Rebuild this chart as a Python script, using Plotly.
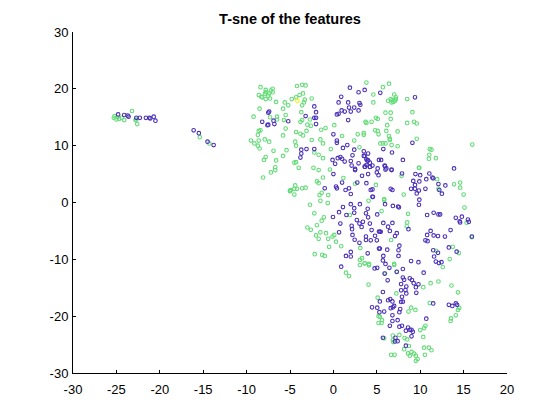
import plotly.graph_objects as go

title = "T-sne of the features"
x_ticks = [-30, -25, -20, -15, -10, -5, 0, 5, 10, 15, 20]
y_ticks = [-30, -20, -10, 0, 10, 20, 30]

green_x = [-25.3,-25.2,-25.0,-24.7,-24.9,-24.4,-24.1,-23.2,-22.8,-22.7,-22.6,-15.4,-14.3,
 -8.4,-7.8,-7.8,-7,-7.2,-7,-7.4,-8.6,-8.3,-8.2,-7.8,-7.3,-7.5,-7.9,-6.6,-5.6,-5.2,-8.5,-5.8,-9.2,-6.5,-6.5,-7.3,-5.5,-5.7,-5.5,-8.6,-8.4,-8.7,-5.8,-7.9,-9.5,-9.1,-8.6,-7.4,-8.7,-8.5,-6.9,-5.4,-5.8,-7.8,-8,-6.6,-6.7,-6.7,-7.2,-8.1,-5,
 -4.2,-3.6,-3.2,-4.8,-4.3,-3.9,-3.5,-3.3,-2.5,-3.4,-3.6,-3.7,-3.6,-3.8,-2.7,-3,-2.6,-3.1,-4.3,-3.8,-3.5,-1.4,-0.9,-2.5,-1.5,-1.2,-4.4,-4.3,-4.5,-4.3,-4,-2.2,-1.7,-1.2,-0.3,-2.3,-1.7,-0.4,0.1,1,2.8,2.4,3,3.5,3.7,3.8,3.8,
 6.4,5.7,4.6,4.6,7,7.2,6.3,6.6,6.7,6.9,7.1,7.2,6.8,8.5,6,6.6,9.1,4.9,5.1,6.6,4.4,6.2,8.5,9.3,9.6,3.5,4.8,5.1,5.2,6.1,7.4,6.4,6.5,6.5,5.4,5.7,6,6.7,7.4,9.6,11.1,11.3,11.05,11,11.8,16,9.9,
 -1.2,-1.9,-1.7,-4.4,-4.9,-5,-4.5,-4.2,-3.6,-3.2,-4.5,-1.35,-1.6,-0.6,1.15,2.5,4.9,-1.5,-0.65,-2.7,-2.2,1.9,-1.1,-1.35,-1.9,4.05,-3,-2.6,-2,-1.5,-0.85,-1.7,-0.6,-0.1,0.1,0.3,-0.5,0.9,3.1,-2.15,-1.3,-1,3.3,3.05,3.6,4.1,
 9.85,7.85,11.95,13.9,14.6,14.6,12.1,8.1,15,5.85,5.85,15.1,5.55,8.6,8.5,8.45,15.35,6.65,13.75,11.85,14.45,15.95,13.4,7,
 3.05,3.6,4.1,7,12.6,1.45,1.8,5.95,7.3,4.05,11.2,12.1,13.6,10.35,14.35,7.25,5.1,11.1,8.95,9.45,8.65,14.5,14.35,14.1,13.55,13.5,5.2,5.35,5.6,5.2,5.55,10.6,10.45,10,6.85,7.6,8.2,8.5,10.35,5.85,6.85,6.9,8.7,8.15,10.45,11,11.3,9,8.6,8.8,9.3,9.5,9.7,9.5,6.65,7.05,10.55]
green_y = [14.9,15.2,14.6,14.7,15,14.9,14.5,16.1,14.5,14.6,13.8,11.5,10.4,
 20.3,19.8,19.4,20,19.7,19.4,19.2,18.9,18.6,18.5,18.2,18.3,18.8,19.1,17.7,17.6,17.1,16.5,16.5,15.1,15.1,14.6,15,15.4,14.5,13,12.6,12.7,11.9,11.8,11.1,10.9,10.4,10.9,10.7,10,9.5,9.1,9.2,8.2,8,7.5,7.4,6.2,5.7,5.3,4.4,2.1,
 20.5,20.7,20.6,18.2,18.5,18.9,19.2,18.1,18.3,17.6,17.1,15.9,14.5,14.2,14.6,13.7,13.5,12.6,12.4,12.1,11.8,12.8,13.1,11,11.1,10.4,10.7,10,7,7.1,6.1,8.8,8.4,7.8,9.4,6.1,5.7,5.8,13.6,11.7,12,10.9,9.7,12.2,14.2,14,21.1,
 20.9,20.3,19,17.6,19,18.5,17.9,18.2,17.6,17.7,17.9,18.2,18,18.2,15.8,15.8,15.9,14.9,14.7,14.7,14.2,13.6,14,14.2,13.9,11.9,12.7,12.6,12,12.6,12.5,11.7,11.2,11,10.4,10.4,10.4,10.1,9.9,11.2,9.4,9.3,8.4,7.7,7.8,10.2,6.1,
 4.4,3.7,3.4,3,2.2,2,2.4,2.4,2.5,2.6,1.4,1.7,1.3,1.3,4.3,3.3,3.1,0.3,-0.1,-0.4,-1.9,-2.2,-2.6,-3.2,-4,0.3,-4.4,-4.8,-5.8,-5.25,-5.4,-6.4,-6.4,-6,-5.7,-6.9,-7.8,-7.7,-8,-9.1,-9.2,-9.4,-9.8,-10.1,-10.7,-10.8,
 6.1,4.7,4.1,3.2,3.5,2.6,2.4,1.4,1.4,0.6,0.4,-0.9,-1.5,-2,-3.5,-4.2,-3.55,-6.6,-7.8,-8.5,-8.9,-6.1,-9.95,-10.8,
 -11,-10.7,-11.05,-11,-11.35,-12.35,-12.95,-12.5,-12.2,-14.45,-14.2,-13.9,-14.6,-14.9,-15.8,-16,-16.75,-17.7,-18.5,-18.9,-19.2,-18.55,-18.9,-19.85,-20.4,-20.85,-20,-20.1,-20.7,-21.2,-21.2,-21.7,-22.1,-22.45,-23.4,-23.3,-23.85,-24.1,-23.65,-23.9,-24.2,-24.55,-25.25,-25.8,-25.55,-25.55,-26,-26.3,-26.55,-26.95,-26.6,-26.95,-27.55,-27.85,-26.8,-26.8,-26.8]

blue_x = [-24.8,-24.1,-23.7,-23.6,-22.7,-22.3,-21.6,-21.2,-21.1,-20.7,-20.5,-16.1,-15.5,-14.5,-13.8,-7.5,-7.4,-8.2,-6.9,-7.6,-7.5,-6.8,-5.2,
 -2.2,-2,-3.2,-2.2,-2,-2,1.9,2.9,3.6,0.9,0.6,1.7,3,3.1,1.8,2.4,0.95,1.3,2,2.9,0.6,0.4,1.7,0,0.4,0.4,1.6,1.1,2.4,2.2,3.5,4,3.5,3.8,4,-0.1,0.2,0.5,0.8,1,1.3,2,2.9,3.8,2.5,-3.7,-3.1,-3.7,-3.8,-2.2,
 5.4,9.4,9.1,5.75,6.75,8,3.6,3.9,4.2,5.25,5.5,4.2,3.6,4.5,5.9,5.1,6.1,6.7,13.9,
 -1,0,1,2.1,2.5,3.3,4,3.8,2.75,0.3,0.4,1.4,1.8,2,4.5,4.3,4.55,1.1,2,3.05,2.4,3.95,0.65,2.4,1.5,-0.05,3.75,4,5.05,2.7,3,3.4,4.2,0.8,2.1,2.15,3.25,4.4,0.65,5.25,2.2,2.45,3,3.75,4.8,3.75,4.3,5,2,1.45,2,3.95,5.25,3.65,4.2,5,
 5.2,5.95,6,6.7,7.9,9.45,10,11.05,11.4,10.7,11.5,9.2,9.9,9.4,12.1,12.9,12.2,12.5,8.95,9.4,9.85,10.6,9.6,9.9,9.85,6.6,6.8,4.5,6.85,7.45,7.55,5.95,10.8,11.55,12.1,12.3,14.1,14.8,14.55,14.6,15.5,15.6,15.95,5.75,6.8,6.3,5.35,5.45,6.5,7.3,7.1,8.65,11.2,10.8,11.55,12.05,12.85,13.5,10.6,10.85,7.6,7.5,5.35,6.2,5.75,7.5,8.95,9.8,13.3,11.5,11.6,11.8,12.15,12.45,12.05,14.2,
 0.9,4.75,5.05,5.7,6,6.45,5.9,7.3,8,10.4,8,8.15,6.25,8.8,9.05,9.25,9.8,7.8,9.5,8.4,8.3,7.8,9.55,5.7,8.4,7.9,8,7.8,5.35,6.55,6.3,6.8,7,6.85,6.6,4.45,5.05,7.7,7.6,5.3,5.85,11.5,13.3,13.7,14.1,14.25,10.7,6.8,7.4,6.8,6.5,7.6,7.9,8.6,8.35,8.8,9,9.15,9,5.7,7.15,7.4,7.1,8.35]
blue_y = [15.5,15.4,15.3,15.1,14.9,14.9,14.9,14.9,14.8,15.1,14.4,12.7,12.2,10.7,10.1,15.8,16,14.2,14.4,13.6,13.7,13.8,14.3,
 16.9,15.9,15.2,14.9,14.9,13.8,20.2,19.4,19.8,18.6,17.6,17.6,17.5,17.2,16.7,16.7,16.2,16,16,16.2,15.6,15.5,14.5,12,10.9,10.5,10.1,9.6,9.3,8.3,9,8.6,8.2,7.6,7.4,7.5,6.8,7.8,8,7.7,7.2,7.3,6.9,6.6,5.9,9.3,9.4,8.6,7.9,9.4,
 19.3,18.5,10.5,9.4,8.8,7.5,8.2,7.4,7,7.5,7.5,6.3,6.3,6.5,6.5,6,6,5.8,6,
 2.5,5,3.5,6.5,5.7,4.7,5,3.4,3.5,2.8,2.5,2.2,2.5,1.5,2.3,2.2,1,-0.8,-0.3,-0.3,-1,-1.1,-1.7,-1.8,-2.2,-2.55,-1.9,-2.6,-2.1,-3.1,-3.7,-3.4,-3.7,-3.7,-4.1,-4.7,-4.3,-4.85,-5.25,-5.1,-5.7,-6.55,-7.1,-6,-5.85,-6.6,-6.65,-6.65,-8.7,-9.4,-9.5,-8.95,-8.1,6.3,6.25,5.3,
 4.8,6.4,5.8,5.7,5.1,5,4.8,5.1,4.4,4.1,4.25,3.8,3.7,3.1,3.25,3,2.2,1.55,2.4,2.4,2.1,2.4,1.6,0.5,-0.4,2.4,2.2,1,-0.6,-0.7,-0.85,-0.3,-2.2,-1.8,-2.1,-2.1,-2.7,-2.5,-3.3,-3.5,-3,-3.4,-6,-3.6,-3.6,-4.25,-5.15,-5.15,-5,-5.4,-5.9,-4.7,-5,-5.7,-5.8,-5.9,-6,-4.85,-6.65,-6.8,-7.6,-8.4,-8.1,-8.3,-9.4,-9.4,-10.3,-10.5,-7.9,-8.4,-9.5,-10.4,-10.65,-10.5,-8.85,-8.65,
 -11.3,-11.6,-11.5,-10.2,-10.8,-11.5,-12.5,-12.2,-11.7,-12.35,-13.2,-13.6,-13.7,-13.35,-13.65,-14.2,-14.4,-14.35,-14.9,-14.8,-15.4,-15.45,-15.9,-15.75,-16,-16.6,-17.45,-17.5,-17.4,-17,-17.2,-17.4,-18.2,-18.45,-18.6,-18.45,-18.5,-18.75,-19.3,-19.3,-19.2,-17.75,-18,-18.2,-17.75,-18,-20.45,-19.85,-20.7,-20.85,-21.7,-21.85,-21.7,-22,-22.55,-22.4,-22.4,-22.75,-23.55,-23.8,-23.8,-24.4,-24.45,-25.2]

yellow_x = [-4.15]
yellow_y = [17.9]

def series(x, y, color):
    return go.Scatter(x=x, y=y, mode="markers", showlegend=False, hoverinfo="skip",
                      marker=dict(symbol="circle-open", size=3.6, color=color, line=dict(width=1.1, color=color)))

fig = go.Figure([
    series(green_x, green_y, "#64dc78"),
    series(blue_x, blue_y, "#4a30b8"),
    series(yellow_x, yellow_y, "#f5f000"),
])

axis = dict(showgrid=False, zeroline=False, showline=True, linecolor="black", linewidth=1,
            ticks="inside", ticklen=3, tickcolor="black", tickwidth=1,
            tickfont=dict(family="Liberation Sans", size=13, color="black"), tickmode="array")
fig.update_layout(
    width=544, height=404, paper_bgcolor="white", plot_bgcolor="white",
    margin=dict(l=65, r=45, t=24, b=39, pad=0),
    title=dict(text="<b>%s</b>" % title, x=0.5, xanchor="center", xref="paper", y=0.973, yanchor="middle",
               font=dict(family="Liberation Sans", size=14.5, color="black")),
    xaxis=dict(range=[-30, 20], tickvals=x_ticks, ticktext=[str(v) for v in x_ticks], ticklabelstandoff=4, **axis),
    yaxis=dict(range=[-30, 30], tickvals=y_ticks, ticktext=[str(v) for v in y_ticks], ticklabelstandoff=1, **axis),
)
fig.write_html("out.html", config=dict(displayModeBar=False))
